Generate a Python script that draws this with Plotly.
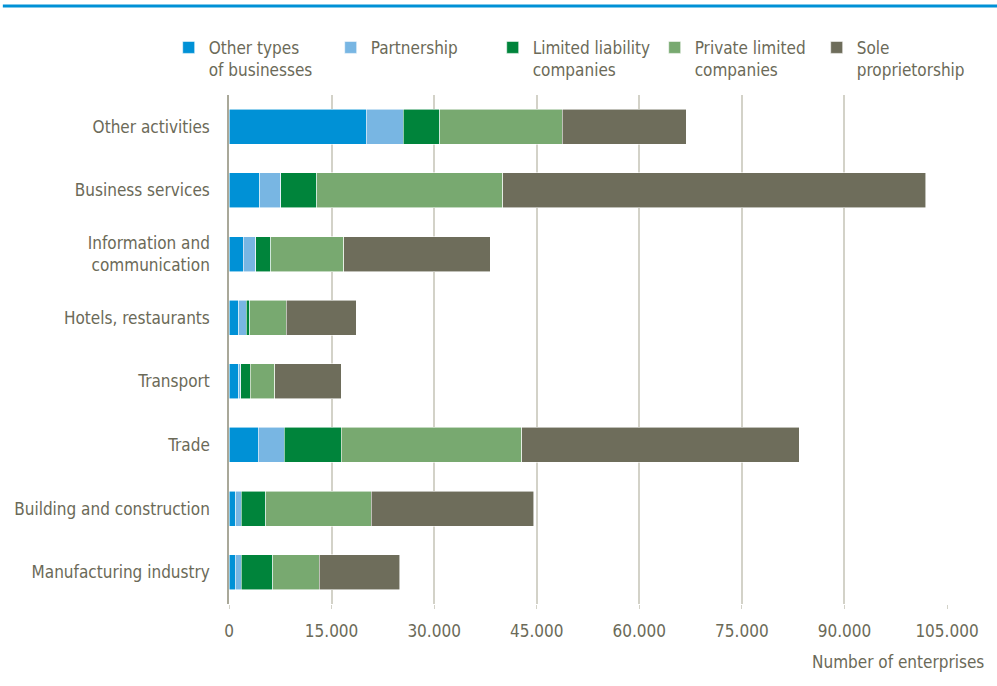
import plotly.graph_objects as go

# Sectors, listed bottom to top as they appear on the category axis
sectors = [
    "Manufacturing industry",
    "Building and construction",
    "Trade",
    "Transport",
    "Hotels, restaurants",
    "Information and<br>communication",
    "Business services",
    "Other activities",
]

# Enterprises per legal form (same order as sectors)
other_types = [900, 1000, 4300, 1400, 1400, 2100, 4500, 20100]
partnership = [900, 800, 3800, 300, 1100, 1800, 3100, 5400]
limited_liability = [4600, 3600, 8300, 1400, 500, 2200, 5200, 5300]
private_limited = [6800, 15400, 26400, 3600, 5400, 10700, 27200, 17900]
sole_proprietorship = [11800, 23800, 40600, 9700, 10200, 21400, 61900, 18200]

series_names = [
    "Other types<br>of businesses",
    "Partnership",
    "Limited liability<br>companies",
    "Private limited<br>companies",
    "Sole<br>proprietorship",
]
series_values = [other_types, partnership, limited_liability, private_limited, sole_proprietorship]
series_colors = ["#0091D6", "#78B6E3", "#00843B", "#78A970", "#6E6D5B"]

x_ticks = [0, 15000, 30000, 45000, 60000, 75000, 90000, 105000]

TEXT = "#6B6A58"
FONT = "Liberation Sans Narrow, Arial Narrow, DejaVu Sans Condensed, sans-serif"

fig = go.Figure()
for name, vals, col in zip(series_names, series_values, series_colors):
    fig.add_trace(go.Bar(
        y=sectors, x=vals, name=name, orientation="h",
        marker=dict(color=col, line=dict(color="rgba(255,255,255,0.7)", width=0.8)),
    ))

fig.update_layout(
    width=997, height=686,
    barmode="stack", bargap=0.45,
    paper_bgcolor="white", plot_bgcolor="white",
    margin=dict(l=229, r=50, t=95, b=82, autoexpand=False),
    font=dict(family=FONT, size=17, color=TEXT),
    separators=",.",
    showlegend=True,
    legend=dict(
        orientation="h", x=-0.084, xanchor="left", y=1.128, yanchor="top",
        traceorder="normal", font=dict(size=17, color=TEXT),
        itemwidth=30, valign="top", bgcolor="rgba(0,0,0,0)",
        entrywidth=117, entrywidthmode="pixels",
    ),
    xaxis=dict(
        range=[0, 105000], tickvals=x_ticks, tickformat=",d",
        showgrid=True, gridcolor="#D3D2C8", gridwidth=1.5,
        zeroline=False, ticks="outside", ticklen=4, tickcolor="#D3D2C8",
        tickfont=dict(size=17, color=TEXT), ticklabelstandoff=8,
        automargin=False,
    ),
    yaxis=dict(
        showline=True, linecolor="#A9A899", linewidth=1.5,
        ticks="", tickfont=dict(size=17, color=TEXT), ticklabelstandoff=14,
        automargin=False,
    ),
    shapes=[dict(type="line", xref="paper", yref="paper",
                 x0=-0.315, x1=1.071, y0=1.175, y1=1.175,
                 line=dict(color="#0091D6", width=3))],
    annotations=[dict(text="Number of enterprises", xref="paper", yref="paper",
                      x=1.055, y=-0.114, xanchor="right", yanchor="middle",
                      showarrow=False, font=dict(size=17, color=TEXT))],
)

fig.write_html("out.html")
